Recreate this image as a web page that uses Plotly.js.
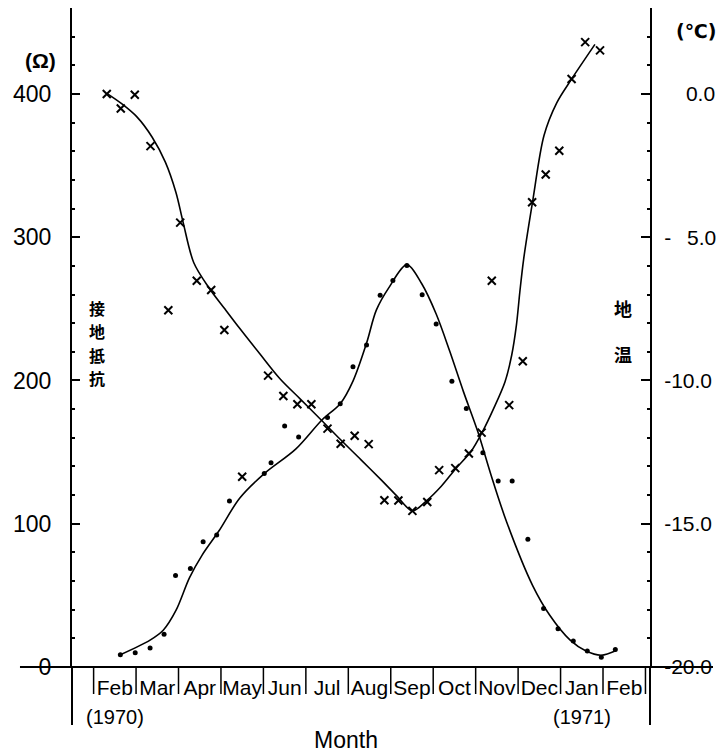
<!DOCTYPE html>
<html><head><meta charset="utf-8">
<script src="https://cdn.plot.ly/plotly-3.0.1.min.js"></script>
<style>body{margin:0;background:#fff}</style>
</head><body>
<div id="chart" style="width:721px;height:756px"></div>
<script>
// Month axis (0 = start of Feb 1970, one unit per month)
const monthLabels = ["Feb","Mar","Apr","May","Jun","Jul","Aug","Sep","Oct","Nov","Dec","Jan","Feb"];
const monthCenters = [0.5,1.5,2.5,3.5,4.5,5.5,6.5,7.5,8.5,9.5,10.5,11.5,12.5];
const monthEdges = [0,1,2,3,4,5,6,7,8,9,10,11,12,13];
const yearLabels = ["(1970)","(1971)"];
const yearCenters = [0.5, 11.5];

// 接地抵抗 (grounding resistance, Ω) – dots, left axis
const resX = [0.63,0.98,1.33,1.66,1.93,2.28,2.58,2.90,3.20,4.02,4.18,4.50,4.83,5.51,5.81,6.11,6.43,6.75,7.05,7.38,7.74,8.07,8.44,8.78,9.17,9.53,9.86,10.23,10.60,10.94,11.30,11.63,11.96,12.29];
const resY = [8.6,9.9,13.2,22.9,63.9,68.7,87.4,92.1,115.8,135.0,142.6,168.3,160.5,174.1,183.8,209.5,224.7,259.5,269.8,280.2,259.8,239.4,199.5,180.5,149.6,129.9,129.8,89.2,40.8,26.7,18.2,11.1,6.8,12.2];
const resCurveX = [0.63,1.33,1.64,1.94,2.26,2.56,2.95,3.44,4.02,4.76,5.39,5.81,6.11,6.43,6.66,6.96,7.38,7.73,8.07,8.39,8.71,9.05,9.36,9.73,10.34,10.75,11.22,11.60,11.96,12.31];
const resCurveY = [8.6,18.8,25.7,39.5,62.4,78.3,94.9,117.8,135.0,152.1,172.8,183.8,199.6,226.1,249.1,265.0,280.9,267.5,246.4,220.4,192.4,164.3,134.2,101.2,57.0,35.9,18.9,11.1,8.2,11.5];

// 地温 (ground temperature, °C) – crosses, right axis
const tempX = [0.31,0.64,0.97,1.34,1.76,2.04,2.43,2.77,3.08,3.50,4.11,4.47,4.80,5.13,5.51,5.82,6.15,6.48,6.85,7.18,7.51,7.86,8.14,8.52,8.84,9.14,9.38,9.79,10.11,10.33,10.65,10.97,11.26,11.58,11.93];
const tempY = [0.0,-0.51,-0.03,-1.82,-7.55,-4.49,-6.52,-6.84,-8.24,-13.36,-9.83,-10.54,-10.83,-10.83,-11.68,-12.21,-11.93,-12.22,-14.18,-14.19,-14.55,-14.24,-13.13,-13.06,-12.55,-11.82,-6.52,-10.86,-9.33,-3.78,-2.81,-1.98,0.52,1.81,1.52];
const tempCurveX = [0.31,0.66,1.02,1.38,1.69,1.94,2.11,2.36,2.72,3.08,3.44,3.91,4.39,4.87,5.35,5.82,6.30,6.78,7.13,7.51,7.84,8.19,8.54,8.89,9.16,9.42,9.69,9.85,9.96,10.04,10.13,10.35,10.61,10.91,11.26,11.81];
const tempCurveY = [0.02,-0.34,-0.80,-1.51,-2.38,-3.44,-4.49,-5.89,-6.77,-7.48,-8.18,-9.06,-9.94,-10.65,-11.36,-12.07,-12.77,-13.48,-14.01,-14.55,-14.20,-13.69,-13.06,-12.48,-11.79,-10.99,-10.05,-9.11,-8.07,-6.92,-5.77,-3.68,-1.45,-0.31,0.52,1.73];

// Axis ticks
const resTicks = [0,100,200,300,400];
const resTickText = ["0","100","200","300","400"];
const tempTicks = [0,-5,-10,-15,-20];
const tempTickText = ["\u2007\u2008\u20090.0","-\u2007\u20095.0","-10.0","-15.0","-20.0"];

// Vertical axis names
const leftName = ["接","地","抵","抗"];
const rightName = ["地","温"];

const NUM = '"Liberation Sans", Arial, sans-serif';
const CJK = '"Noto Sans CJK JP", "Noto Sans CJK SC", sans-serif';

const traces = [
  {x: resCurveX, y: resCurveY, yaxis: 'y', mode: 'lines', line: {color: '#000', width: 1.6, shape: 'spline', smoothing: 0.9}, hoverinfo: 'skip'},
  {x: tempCurveX, y: tempCurveY, yaxis: 'y2', mode: 'lines', line: {color: '#000', width: 1.6, shape: 'spline', smoothing: 0.9}, hoverinfo: 'skip'},
  {x: resX, y: resY, yaxis: 'y', mode: 'markers', name: '接地抵抗', marker: {symbol: 'circle', size: 5, color: '#000'}},
  {x: tempX, y: tempY, yaxis: 'y2', mode: 'markers', name: '地温', marker: {symbol: 'x-thin', size: 8, color: '#000', line: {color: '#000', width: 2}}}
];

const shapes = [
  {type: 'line', xref: 'paper', yref: 'paper', x0: -0.09, x1: 1.109, y0: 0, y1: 0, line: {color: '#000', width: 2}},
  {type: 'line', xref: 'paper', yref: 'paper', x0: 0, x1: 0, y0: 0, y1: -0.088, line: {color: '#000', width: 2}},
  {type: 'line', xref: 'paper', yref: 'paper', x0: 1, x1: 1, y0: 0, y1: -0.088, line: {color: '#000', width: 2}}
].concat(monthEdges.map(e => ({type: 'line', xref: 'x', yref: 'paper', x0: e, x1: e, y0: 0, y1: -0.041, line: {color: '#000', width: 1.5}})));

const annotations = [
  {text: 'Month', xref: 'paper', yref: 'paper', x: 0.4746, y: -0.1105, showarrow: false, xanchor: 'center', yanchor: 'middle', font: {family: NUM, size: 23, color: '#000'}},
  {text: '(Ω)', xref: 'paper', yref: 'paper', x: -0.0548, y: 0.92, showarrow: false, xanchor: 'center', yanchor: 'middle', font: {family: NUM, size: 21, weight: 'bold', color: '#000'}},
  {text: '(℃)', xref: 'paper', yref: 'paper', x: 1.079, y: 0.965, showarrow: false, xanchor: 'center', yanchor: 'middle', font: {family: '"DejaVu Sans", ' + CJK, size: 19, weight: 'bold', color: '#000'}}
]
.concat(yearLabels.map((t, i) => ({text: t, xref: 'x', yref: 'paper', x: yearCenters[i], y: -0.0755, showarrow: false, xanchor: 'center', yanchor: 'middle', font: {family: NUM, size: 20, color: '#000'}})))
.concat(leftName.map((c, i) => ({text: c, xref: 'paper', yref: 'paper', x: 0.0426, y: 0.5455 - i * 0.0357, showarrow: false, xanchor: 'center', yanchor: 'middle', font: {family: CJK, size: 16, weight: 'bold', color: '#000'}})))
.concat(rightName.map((c, i) => ({text: c, xref: 'paper', yref: 'paper', x: 0.954, y: 0.5446 - i * 0.069, showarrow: false, xanchor: 'center', yanchor: 'middle', font: {family: CJK, size: 18, weight: 'bold', color: '#000'}})));

const layout = {
  width: 721, height: 756,
  margin: {l: 72, r: 71, t: 8, b: 89, pad: 0},
  paper_bgcolor: '#fff', plot_bgcolor: '#fff',
  showlegend: false,
  font: {family: NUM, color: '#000'},
  xaxis: {range: [-0.509, 13.107], tickmode: 'array', tickvals: monthCenters, ticktext: monthLabels,
          ticks: '', tickangle: 0, showgrid: false, zeroline: false, showline: false,
          tickfont: {family: NUM, size: 21, color: '#000'}, ticklabelstandoff: 6, fixedrange: true},
  yaxis: {range: [0, 460], tickmode: 'array', tickvals: resTicks, ticktext: resTickText,
          ticks: 'inside', ticklen: 8, tickwidth: 2, tickcolor: '#000',
          showline: true, linewidth: 2, linecolor: '#000', showgrid: false, zeroline: false,
          minor: {tickmode: 'linear', tick0: 0, dtick: 20, ticks: 'inside', ticklen: 3, tickwidth: 2, tickcolor: '#000'},
          tickfont: {family: NUM, size: 23, color: '#000'}, ticklabelstandoff: 14, fixedrange: true},
  yaxis2: {overlaying: 'y', side: 'right', range: [-20, 3], tickmode: 'array', tickvals: tempTicks, ticktext: tempTickText,
          ticks: 'inside', ticklen: 9, tickwidth: 2, tickcolor: '#000',
          showline: true, linewidth: 2, linecolor: '#000', showgrid: false, zeroline: false,
          minor: {tickmode: 'linear', tick0: 0, dtick: 1, ticks: 'inside', ticklen: 3, tickwidth: 2, tickcolor: '#000'},
          tickfont: {family: NUM, size: 21, color: '#000'}, ticklabelstandoff: 8, fixedrange: true},
  shapes: shapes,
  annotations: annotations
};

Plotly.newPlot('chart', traces, layout, {displayModeBar: false, staticPlot: true});
</script>
</body></html>
